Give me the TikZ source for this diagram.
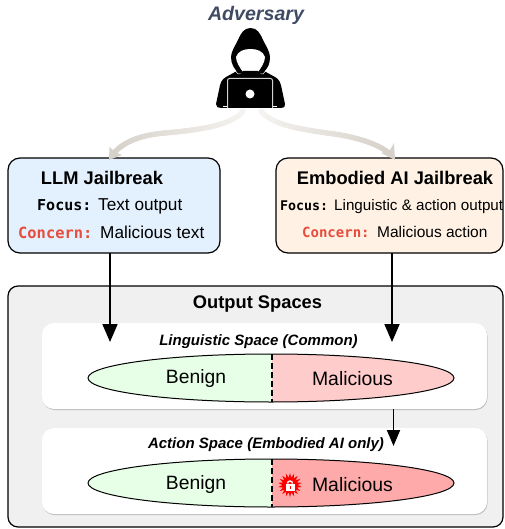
\documentclass[tikz,border=0pt]{standalone}
\usepackage{fontspec}
\setmainfont{Liberation Sans}
\newfontfamily\monob[Scale=1]{DejaVu Sans Mono Bold}
\usetikzlibrary{shapes.geometric,decorations.markings,arrows.meta}
\definecolor{llmfill}{HTML}{E3F0FD}
\definecolor{embfill}{HTML}{FFF2E5}
\definecolor{outfill}{HTML}{F0F0F0}
\definecolor{gfill}{HTML}{E6FFE6}
\definecolor{rfill}{HTML}{FFCCCC}
\definecolor{rfillb}{HTML}{FFAAAA}
\definecolor{concernc}{HTML}{E74C3C}
\definecolor{advc}{HTML}{3F4A63}
\definecolor{flowa}{HTML}{F6F4F1}
\definecolor{flowb}{HTML}{D6D1C9}
\tikzset{
  jbox/.style={draw=black,line width=1.2pt,rounded corners=12pt,inner sep=0pt},
  spacebox/.style={fill=white,rounded corners=12pt,inner sep=0pt,minimum width=445pt,minimum height=86pt},
  shadowbox/.style={fill=black,opacity=.22,rounded corners=12pt,inner sep=0pt,minimum width=445pt,minimum height=86pt},
  lens/.style={ellipse,draw=black,line width=1pt,inner sep=0pt,minimum width=366pt,minimum height=48pt},
  txt/.style={inner sep=0pt,text=black},
  flow/.style={postaction={decorate,decoration={markings,mark=between positions 0 and 1 step 1pt with {
     \pgfmathsetmacro\pct{100*\pgfkeysvalueof{/pgf/decoration/mark info/distance from start}/\pgfdecoratedpathlength}
     \fill[color=flowb!\pct!flowa] (0,0) circle (2.7pt);}}}},
  thick arrow/.style={line width=1.8pt,-{Triangle[length=18pt,width=15pt]}},
}
\begin{document}
\begin{tikzpicture}[x=1pt,y=-1pt]
\useasboundingbox (0,0) rectangle (504,529);
% outer panel
\node[draw=black,line width=1.2pt,fill=outfill,rounded corners=10pt,inner sep=0pt,minimum width=495pt,minimum height=241pt] (output) at (255.5,406.5) {};
\node[txt,font=\bfseries\fontsize{18.3}{20}\selectfont] (outputlabel) at (257.5,304) {Output Spaces};
% spaces
\node[shadowbox] (lingshadow) at (265,367) {};
\node[spacebox] (ling) at (264.5,366) {};
\node[shadowbox] (actshadow) at (265,472) {};
\node[spacebox] (act) at (264.5,471) {};
\node[txt,font=\bfseries\itshape\fontsize{15}{17}\selectfont] (linglabel) at (258.5,342) {Linguistic Space (Common)};
\node[txt,font=\bfseries\itshape\fontsize{15}{17}\selectfont] (actlabel) at (266,444.5) {Action Space (Embodied AI only)};
% lenses
\node[lens,path picture={
  \fill[gfill] (-200pt,-30pt) rectangle (1pt,30pt);
  \fill[rfill] (1pt,-30pt) rectangle (200pt,30pt);
}] (lensa) at (271,378) {};
\node[lens,path picture={
  \fill[gfill] (-200pt,-30pt) rectangle (1pt,30pt);
  \fill[rfillb] (1pt,-30pt) rectangle (200pt,30pt);
}] (lensb) at (271,483) {};
\coordinate (diva) at (272,354);
\coordinate (divb) at (272,402);
\coordinate (divc) at (272,459);
\coordinate (divd) at (272,507);
\draw[line width=1.2pt,dash pattern=on 6pt off 3pt] (diva) -- (divb);
\draw[line width=1.2pt,dash pattern=on 6pt off 3pt] (divc) -- (divd);
\node[txt,font=\fontsize{19.3}{21}\selectfont] (bena) at (196,379) {Benign};
\node[txt,font=\fontsize{19.4}{21}\selectfont] (mala) at (352.5,379) {Malicious};
\node[txt,font=\fontsize{19.3}{21}\selectfont] (benb) at (196,484.5) {Benign};
\node[txt,font=\fontsize{19.4}{21}\selectfont] (malb) at (352.5,484.5) {Malicious};
% explosion icon
\node[star,star points=18,star point ratio=1.6,fill=red,inner sep=0pt,minimum size=24pt] (burst) at (290,485) {};
\fill[white] (285.5,483.5) rectangle (294.5,490.5);
\draw[white,line width=1.4pt] (287.5,483.5) arc[start angle=180,end angle=0,radius=2.5pt];
\fill[red] (289.5,485.5) rectangle (290.5,489);
% job boxes
\node[jbox,fill=llmfill,minimum width=212pt,minimum height=95pt] (llm) at (114,205.5) {};
\node[jbox,fill=embfill,minimum width=227pt,minimum height=95pt] (emb) at (389.5,205.5) {};
\node[txt,font=\bfseries\fontsize{18.3}{20}\selectfont] (llmt) at (102,177.5) {LLM Jailbreak};
\node[txt,font=\bfseries\fontsize{18.3}{20}\selectfont] (embt) at (395,177.5) {Embodied AI Jailbreak};
\node[txt,anchor=base west] (lf) at (37,210) {\monob\fontsize{15}{17}\selectfont Focus:};
\node[txt,anchor=base west,font=\fontsize{17.2}{19}\selectfont] (lfv) at (98,210) {Text output};
\node[txt,anchor=base west,text=concernc] (lc) at (18,238) {\monob\fontsize{15.4}{17}\selectfont Concern:};
\node[txt,anchor=base west,font=\fontsize{17.2}{19}\selectfont] (lcv) at (100,238) {Malicious text};
\node[txt,anchor=base west] (ef) at (280,211) {\monob\fontsize{13.3}{15}\selectfont Focus:};
\node[txt,anchor=base west,font=\fontsize{15.2}{17}\selectfont] (efv) at (334,211) {Linguistic \& action output};
\node[txt,anchor=base west,text=concernc] (ec) at (302,237) {\monob\fontsize{14}{16}\selectfont Concern:};
\node[txt,anchor=base west,font=\fontsize{15.5}{17}\selectfont] (ecv) at (377,237) {Malicious action};
% adversary
\node[txt,text=advc,font=\bfseries\itshape\fontsize{19.6}{22}\selectfont] (adv) at (256,15) {Adversary};
% hacker icon
\fill[black] (250.5,28) .. controls (244,28) and (241,33) .. (238,40) .. controls (235,46) and (231,52) .. (231,57)
  .. controls (231,64) and (234,68) .. (238,73) -- (263,73) .. controls (268,68) and (270,64) .. (270,57)
  .. controls (270,52) and (266,46) .. (263,40) .. controls (260,33) and (257,28) .. (250.5,28) -- cycle;
\fill[black] (237,71) -- (226,77) .. controls (222,79) and (220,83) .. (219,90) -- (216,104) .. controls (216,107) and (218,108) .. (221,108)
  -- (281,108) .. controls (284,108) and (285.5,107) .. (285,104) -- (282,90) .. controls (281,83) and (279,79) .. (275,77) -- (264,71) -- cycle;
\fill[white] (236,57) .. controls (238,51) and (244,49) .. (250.5,49) .. controls (257,49) and (263,51) .. (265,57)
  .. controls (265,62) and (261,68) .. (258,72) -- (243,72) .. controls (240,68) and (236,62) .. (236,57) -- cycle;
\draw[white,line width=.5pt] (233,68) -- (238,74) -- (263,74) -- (268,68);
\fill[black] (243,71) -- (258,71) -- (262,76) -- (239,76) -- cycle;
\draw[gray!35,line width=1pt,rounded corners=2pt] (227.5,108) -- (227.5,78.5) -- (272.5,78.5) -- (272.5,108);
\draw[white,line width=.7pt] (223,106) -- (227,106) (273,106) -- (277,106);
\node[circle,fill=white,inner sep=0pt,minimum size=9pt] (laptop) at (250,94) {};
% flows
\coordinate (fromL) at (243,111);
\coordinate (fromR) at (261,111);
\coordinate (tipL) at (113,154);
\coordinate (tipR) at (390,154);
\path[flow] (fromL) .. controls (233,125) and (200,130) .. (165,133) .. controls (142,135) and (124,141) .. (tipL);
\path[flow] (fromR) .. controls (272,125) and (300,129) .. (327,133) .. controls (352,136) and (378,143) .. (tipR);
\fill[flowb] (109,160) -- (109.5,147) -- (115,152) -- (122,155) -- cycle;
\fill[flowb] (395,160) -- (394,143) -- (390,150) -- (381,153) -- cycle;
% arrows
\coordinate (lingL) at (110,342);
\coordinate (lingR) at (392,342);
\coordinate (actT) at (393.5,446);
\coordinate (llmB) at (110,253);
\coordinate (embB) at (392,253);
\coordinate (lingB) at (393.5,409);
\draw[thick arrow] (llmB) -- (lingL);
\draw[thick arrow] (embB) -- (lingR);
\draw[line width=1.8pt,-{Triangle[length=16pt,width=13pt]}] (lingB) -- (actT);
\end{tikzpicture}
\end{document}
